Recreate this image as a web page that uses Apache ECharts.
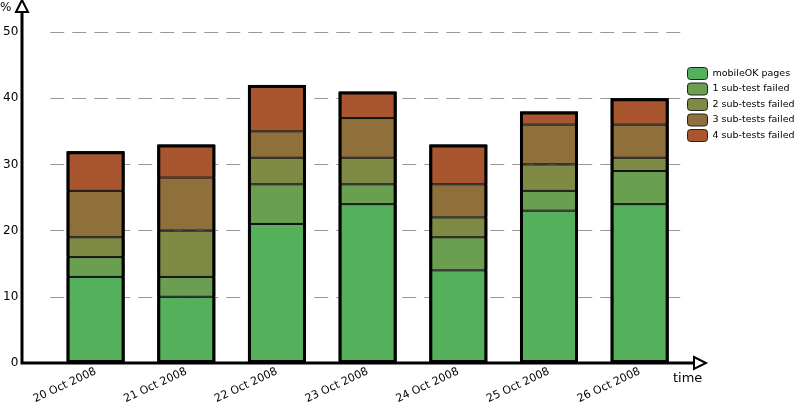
<!DOCTYPE html>
<html><head><meta charset="utf-8">
<script src="https://cdn.jsdelivr.net/npm/echarts@6/dist/echarts.min.js"></script>
<style>html,body{margin:0;background:#fff}#c{width:795px;height:409px}</style>
</head><body><div id="c"></div>
<script>
var days = ['20 Oct 2008','21 Oct 2008','22 Oct 2008','23 Oct 2008','24 Oct 2008','25 Oct 2008','26 Oct 2008'];
var okPages = [13,10,21,24,14,23,24];
var fail1 = [3,3,6,3,5,3,5];
var fail2 = [3,7,4,4,3,4,2];
var fail3 = [7,8,4,6,5,6,5];
var fail4 = [6,5,7,4,6,2,4];
var names = ['mobileOK pages','1 sub-test failed','2 sub-tests failed','3 sub-tests failed','4 sub-tests failed'];
var colors = ['#55b05b','#6a9e50','#7f8b45','#8f6f3a','#a9552f'];
var totals = days.map(function(d,i){return okPages[i]+fail1[i]+fail2[i]+fail3[i]+fail4[i];});

var chart = echarts.init(document.getElementById('c'));
var all = [okPages, fail1, fail2, fail3, fail4];
var series = all.map(function(arr,k){
    return {name:names[k], type:'bar', stack:'s', data:arr, barWidth:58,
        itemStyle:{color:colors[k], borderColor:'#111', borderWidth:1}};
});
series.push({name:'outline', type:'bar', data:totals, barWidth:58, barGap:'-100%', silent:true, z:5,
    itemStyle:{color:'transparent', borderColor:'#000', borderWidth:3}});
chart.setOption({
    animation:false,
    textStyle:{fontFamily:'DejaVu Sans'},
    grid:{left:48, right:110, top:32, bottom:46},
    legend:{data:names, orient:'vertical', left:682, top:62, itemWidth:20, itemHeight:12, itemGap:2.5,
        icon:'roundRect', textStyle:{fontSize:9.5, color:'#000'},
        itemStyle:{borderColor:'#222', borderWidth:1}},
    xAxis:{type:'category', data:days, axisLine:{show:false}, axisTick:{show:false},
        axisLabel:{rotate:25, color:'#000', fontSize:11, margin:8}},
    yAxis:{type:'value', min:0, max:50, interval:10, offset:26,
        axisLine:{show:false}, axisTick:{show:false},
        axisLabel:{color:'#000', fontSize:12, margin:6},
        splitLine:{lineStyle:{color:'#999', type:[14,8]}}},
    series:series,
    graphic:[
        {type:'polyline', shape:{points:[[22,8],[22,363],[700,363]]}, style:{stroke:'#000', lineWidth:3, fill:null}, z:10},
        {type:'polygon', shape:{points:[[16,12],[22,0],[28,12]]}, style:{fill:'#fff', stroke:'#000', lineWidth:2}, z:10},
        {type:'polygon', shape:{points:[[694,357],[706,363],[694,369]]}, style:{fill:'#fff', stroke:'#000', lineWidth:2}, z:10},
        {type:'text', left:0, top:2, style:{text:'%', fontSize:12, fill:'#000', fontFamily:'DejaVu Sans'}},
        {type:'text', left:673, top:372, style:{text:'time', fontSize:13, fill:'#000', fontFamily:'DejaVu Sans'}}
    ]
});
</script></body></html>
